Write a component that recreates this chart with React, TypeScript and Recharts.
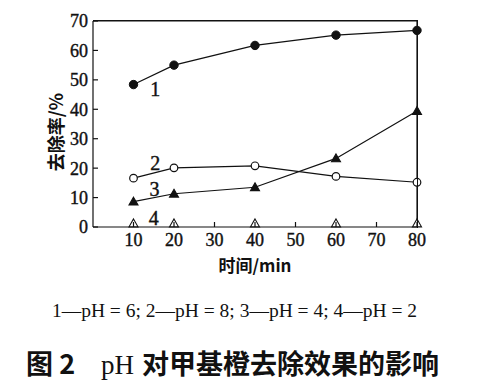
import React from 'react';
import {
  LineChart,
  Line,
  XAxis,
  YAxis,
  ReferenceDot,
  ReferenceLine,
} from 'recharts';

// reaction time, min
const times = [10, 20, 40, 60, 80];

// removal rate, %
const ph6 = [48.4, 55.0, 61.7, 65.2, 66.8];
const ph8 = [16.6, 20.1, 20.8, 17.2, 15.2];
const ph4 = [8.6, 11.3, 13.5, 23.3, 39.4];
const ph2 = [1.2, 1.2, 1.2, 1.2, 1.2];

const xTicks = [10, 20, 30, 40, 50, 60, 70, 80];
const yTicks = [0, 10, 20, 30, 40, 50, 60, 70];

// curve numbers written next to the lines
const curveLabels = [
  { text: '1', x: 15.4, y: 46.9 },
  { text: '2', x: 15.4, y: 21.7 },
  { text: '3', x: 15.2, y: 12.9 },
  { text: '4', x: 15.0, y: 3.0 },
];

const data = times.map((t, i) => ({
  t,
  ph6: ph6[i],
  ph8: ph8[i],
  ph4: ph4[i],
  ph2: ph2[i],
}));

const serif = '"Liberation Serif", "DejaVu Serif", serif';
const cjk = '"Noto Sans CJK SC", sans-serif';
const ink = '#111';

// chart geometry
const W = 490;
const H = 290;
const M = { top: 21, right: 73, left: 0, bottom: 23 };
const X_AXIS_H = 40;
const Y_AXIS_W = 93;
const PLOT_BOTTOM = H - M.bottom - X_AXIS_H;
const PLOT_LEFT = M.left + Y_AXIS_W;
const PLOT_RIGHT = W - M.right;

const FilledCircle = (props: any) => {
  const { cx, cy } = props;
  if (cx == null || cy == null) return null;
  return <circle cx={cx} cy={cy} r={4.2} fill={ink} stroke={ink} />;
};

const OpenCircle = (props: any) => {
  const { cx, cy } = props;
  if (cx == null || cy == null) return null;
  return <circle cx={cx} cy={cy} r={3.8} fill="#fff" stroke={ink} strokeWidth={1.2} />;
};

const Tri = (props: any) => {
  const { cx, cy, open } = props;
  if (cx == null || cy == null) return null;
  const s = 4.5;
  return (
    <path
      d={`M${cx},${cy - s} L${cx + s},${cy + s * 0.75} L${cx - s},${cy + s * 0.75} Z`}
      fill={open ? '#fff' : ink}
      stroke={ink}
      strokeWidth={1.1}
    />
  );
};

// tick labels plus short inward tick marks
const renderXTick = (props: any) => {
  const { x, payload } = props;
  return (
    <g>
      <line x1={x} y1={PLOT_BOTTOM} x2={x} y2={PLOT_BOTTOM - 5} stroke={ink} strokeWidth={1.2} />
      <text
        x={x}
        y={PLOT_BOTTOM + 6}
        dy="0.71em"
        textAnchor="middle"
        fontFamily={serif}
        fontSize={18}
        fill={ink}
        stroke={ink}
        strokeWidth={0.4}
      >
        {payload.value}
      </text>
    </g>
  );
};

const renderYTick = (props: any) => {
  const { y, payload } = props;
  return (
    <g>
      <line x1={PLOT_LEFT} y1={y} x2={PLOT_LEFT + 5} y2={y} stroke={ink} strokeWidth={1.2} />
      <text
        x={PLOT_LEFT - 5}
        y={y}
        dy="0.355em"
        textAnchor="end"
        fontFamily={serif}
        fontSize={18}
        fill={ink}
        stroke={ink}
        strokeWidth={0.4}
      >
        {payload.value}
      </text>
    </g>
  );
};

export default function App() {
  return (
    <div
      style={{
        position: 'absolute',
        left: 0,
        top: 0,
        width: 490,
        height: 386,
        background: '#fff',
      }}
    >
      <LineChart width={W} height={H} data={data} margin={M}>
        <XAxis
          dataKey="t"
          type="number"
          domain={[0, 80]}
          ticks={xTicks}
          height={X_AXIS_H}
          stroke={ink}
          strokeWidth={1.2}
          tickLine={false}
          tick={renderXTick}
          label={{
            value: '时间/min',
            position: 'insideBottom',
            offset: -5,
            fill: ink,
            fontFamily: cjk,
            fontWeight: 700,
            fontSize: 17,
          }}
        />
        <YAxis
          domain={[0, 70]}
          ticks={yTicks}
          width={Y_AXIS_W}
          stroke={ink}
          strokeWidth={1.2}
          tickLine={false}
          tick={renderYTick}
        />
        <ReferenceLine y={70} stroke={ink} strokeWidth={1.2} />
        <ReferenceLine x={80} stroke={ink} strokeWidth={1.2} />
        <Line dataKey="ph6" stroke={ink} strokeWidth={1.2} dot={<FilledCircle />} isAnimationActive={false} />
        <Line dataKey="ph8" stroke={ink} strokeWidth={1.2} dot={<OpenCircle />} isAnimationActive={false} />
        <Line dataKey="ph4" stroke={ink} strokeWidth={1.2} dot={<Tri />} isAnimationActive={false} />
        <Line dataKey="ph2" stroke="none" dot={<Tri open />} isAnimationActive={false} />
        {curveLabels.map((c) => (
          <ReferenceDot
            key={c.text}
            x={c.x}
            y={c.y}
            r={0}
            fill="none"
            stroke="none"
            label={{
              value: c.text,
              position: 'center',
              fill: ink,
              stroke: ink,
              strokeWidth: 0.4,
              fontFamily: serif,
              fontSize: 20,
            }}
          />
        ))}
      </LineChart>
      {/* top and right edges of the plot frame */}
      <div
        style={{
          position: 'absolute',
          left: PLOT_LEFT,
          top: M.top - 1,
          width: PLOT_RIGHT - PLOT_LEFT - 0.5,
          height: PLOT_BOTTOM - M.top + 1,
          borderTop: `1.2px solid ${ink}`,
          borderRight: `1.2px solid ${ink}`,
          pointerEvents: 'none',
        }}
      />
      <div
        style={{
          position: 'absolute',
          left: 55,
          top: 132,
          transform: 'translate(-50%, -50%) rotate(-90deg)',
          fontFamily: cjk,
          fontWeight: 700,
          fontSize: 18,
          color: ink,
          whiteSpace: 'nowrap',
          lineHeight: '20px',
        }}
      >
        去除率/%
      </div>
      <div
        style={{
          position: 'absolute',
          left: 0,
          top: 300,
          width: 469,
          textAlign: 'center',
          fontFamily: serif,
          fontSize: 19.5,
          color: ink,
          whiteSpace: 'nowrap',
        }}
      >
        1—pH = 6; 2—pH = 8; 3—pH = 4; 4—pH = 2
      </div>
      <div
        style={{
          position: 'absolute',
          left: 26,
          top: 345,
          fontSize: 27,
          color: ink,
          whiteSpace: 'nowrap',
          lineHeight: '36px',
        }}
      >
        <span style={{ fontFamily: cjk, fontWeight: 700 }}>图 2</span>
        <span style={{ fontFamily: serif, marginLeft: 26 }}>pH</span>
        <span style={{ fontFamily: cjk, fontWeight: 700, marginLeft: 8 }}>对甲基橙去除效果的影响</span>
      </div>
    </div>
  );
}
